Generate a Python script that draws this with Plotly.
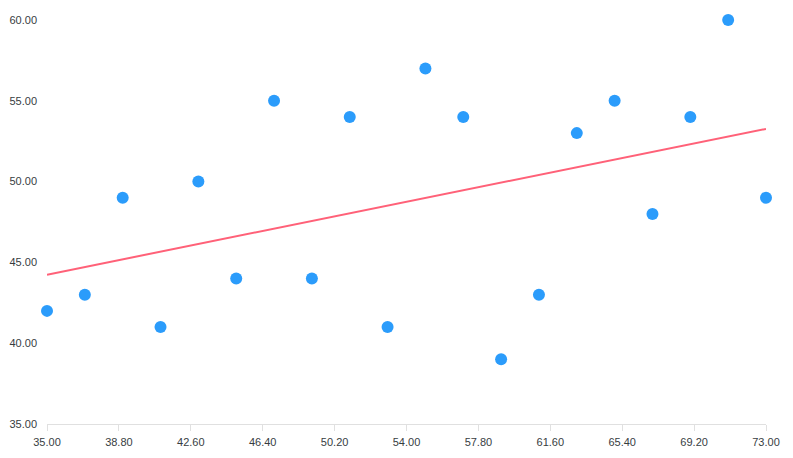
import plotly.graph_objects as go

x_vals = [35, 37, 39, 41, 43, 45, 47, 49, 51, 53, 55, 57, 59, 61, 63, 65, 67, 69, 71, 73]
y_vals = [42, 43, 49, 41, 50, 44, 55, 44, 54, 41, 57, 54, 39, 43, 53, 55, 48, 54, 60, 49]
trend_x = [35, 73]
trend_y = [44.24, 53.26]
x_ticks = [35 + 3.8 * i for i in range(11)]
y_ticks = [35, 40, 45, 50, 55, 60]

fig = go.Figure()
fig.add_trace(go.Scatter(x=trend_x, y=trend_y, mode="lines",
                         line=dict(color="#ff6178", width=2), showlegend=False))
fig.add_trace(go.Scatter(x=x_vals, y=y_vals, mode="markers", cliponaxis=False,
                         marker=dict(color="#2b9cfb", size=12, line=dict(width=0)),
                         showlegend=False))

font = dict(family="Liberation Sans, Arial, sans-serif", size=11, color="#373d3f")
fig.update_layout(
    width=785, height=450,
    margin=dict(l=39, r=27, t=12, b=34),
    paper_bgcolor="white", plot_bgcolor="white",
    font=font,
    xaxis=dict(range=[35, 73], tickvals=x_ticks, ticktext=[f"{v:.2f}" for v in x_ticks],
               showgrid=False, zeroline=False, showline=True, linecolor="#e0e0e0", linewidth=1,
               ticks="outside", ticklen=6, tickcolor="#e0e0e0", tickwidth=1, tickfont=font,
               automargin=False, ticklabelstandoff=2),
    yaxis=dict(range=[35, 60], tickvals=y_ticks, ticktext=[f"{v:.2f}" for v in y_ticks],
               showgrid=False, zeroline=False, showline=False, ticks="",
               ticklabelstandoff=9, tickfont=font, automargin=False),
)
fig.write_html("out.html")
